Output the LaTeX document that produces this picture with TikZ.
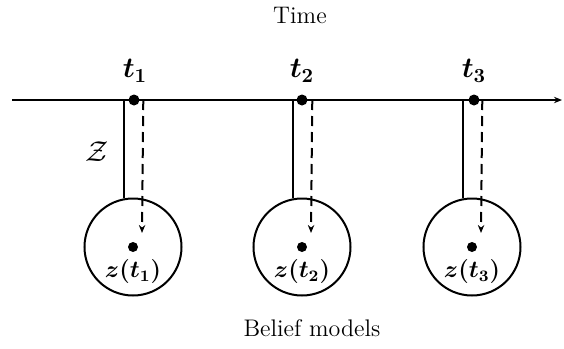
\documentclass[tikz,border=0pt]{standalone}
\usepackage{amsmath}
\usetikzlibrary{arrows.meta,positioning,calc}
\begin{document}
\begin{tikzpicture}[
    x=0.5pt, y=-0.5pt,
    >={Stealth[length=4pt,width=3.2pt]},
    event/.style={circle, fill, inner sep=0pt, minimum size=5.5pt},
    belief/.style={draw, circle, line width=1pt, minimum size=48.5pt, inner sep=0pt},
    link/.style={line width=1pt},
    flow/.style={->, line width=1pt, dash pattern=on 5pt off 3pt},
    lbl/.style={font=\large},
    tick/.style={font=\Large\boldmath}
]
\useasboundingbox (0,0) rectangle (564,349);

\node[lbl] (time) at (300,15) {Time};
\node[lbl] (models) at (312,328) {Belief models};

% time axis
\coordinate (axisstart) at (12,100);
\coordinate (axisend) at (562,100);
\draw[->, line width=1pt] (axisstart) -- (axisend);

\node[event] (e1) at (134,100) {};
\node[event] (e2) at (302,100) {};
\node[event] (e3) at (474,100) {};
\node[tick] (t1) at (135,71) {$t_1$};
\node[tick] (t2) at (302,71) {$t_2$};
\node[tick] (t3) at (474,71) {$t_3$};

% belief models
\node[belief] (b1) at (133,247) {};
\node[belief] (b2) at (302,247) {};
\node[belief] (b3) at (472,247) {};
\node[event, minimum size=5pt] (m1) at (b1.center) {};
\node[event, minimum size=5pt] (m2) at (b2.center) {};
\node[event, minimum size=5pt] (m3) at (b3.center) {};
\node[below=0pt of m1, font=\large\boldmath] (z1) {$z(t_1)$};
\node[below=0pt of m2, font=\large\boldmath] (z2) {$z(t_2)$};
\node[below=0pt of m3, font=\large\boldmath] (z3) {$z(t_3)$};

\draw[link] (b1.101 |- e1) -- (b1.101);
\draw[link] (b2.101 |- e2) -- (b2.101);
\draw[link] (b3.101 |- e3) -- (b3.101);
\draw[flow] (b1.78 |- e1) -- ($(b1.center)+(9,-14)$);
\draw[flow] (b2.78 |- e2) -- ($(b2.center)+(9,-14)$);
\draw[flow] (b3.78 |- e3) -- ($(b3.center)+(9,-14)$);

\node[font=\Large] (zset) at (97,152) {$\mathcal{Z}$};

\end{tikzpicture}
\end{document}
